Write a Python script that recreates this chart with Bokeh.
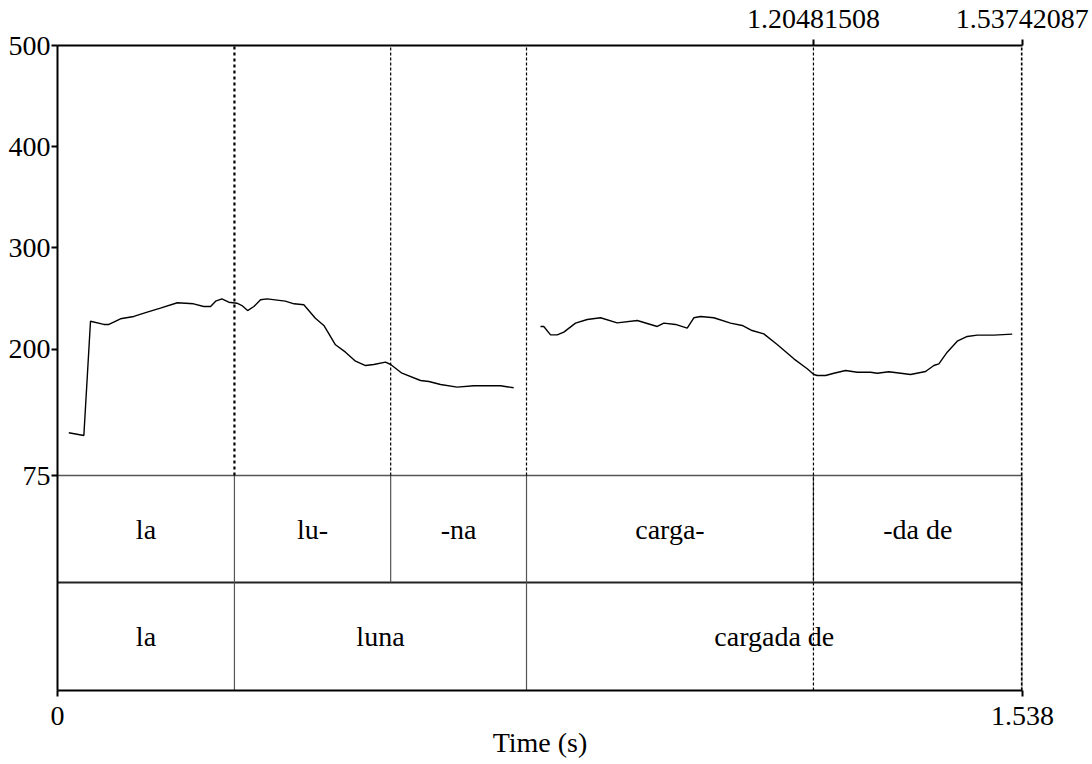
import numpy as np
from bokeh.plotting import figure
from bokeh.models import Range1d, LinearAxis, FixedTicker, ColumnDataSource
from bokeh.core.properties import value
from bokeh.embed import file_html
from bokeh.resources import INLINE

FONT = "Liberation Serif"

# Pitch contour, segment 1 (s, Hz)
pitch_t_1 = [0.018, 0.042, 0.0526, 0.0738, 0.082, 0.1004, 0.1216, 0.143, 0.164, 0.191,
             0.217, 0.233, 0.244, 0.252, 0.262, 0.273, 0.286, 0.294, 0.303, 0.313,
             0.3236, 0.334, 0.363, 0.377, 0.3926, 0.411, 0.4245, 0.4326, 0.443, 0.459,
             0.475, 0.491, 0.504, 0.5228, 0.531, 0.549, 0.5786, 0.592, 0.6105, 0.637,
             0.6635, 0.706, 0.727]
pitch_hz_1 = [117.2, 114.5, 227.5, 224.3, 224.3, 229.9, 232.2, 236.4, 240.4, 245.7,
              244.7, 242.0, 242.0, 247.3, 249.6, 246.3, 245.3, 243.0, 238.0, 242.0,
              248.7, 249.6, 247.3, 244.7, 243.7, 230.5, 223.3, 215.0, 204.2, 196.9,
              188.0, 183.7, 184.7, 187.0, 184.7, 176.1, 168.9, 167.9, 164.9, 162.3,
              163.7, 163.7, 161.7]
# Pitch contour, segment 2
pitch_t_2 = [0.7698, 0.775, 0.7858, 0.7964, 0.807, 0.8256, 0.8443, 0.8655, 0.892, 0.924,
             0.9558, 0.9664, 0.985, 1.0036, 1.0142, 1.0249, 1.046, 1.0727, 1.0913, 1.107,
             1.1257, 1.147, 1.1736, 1.1949, 1.2055, 1.2108, 1.2241, 1.2374, 1.256, 1.2747,
             1.2958, 1.3065, 1.325, 1.3596, 1.3835, 1.3967, 1.4047, 1.418, 1.434, 1.45,
             1.466, 1.4924, 1.5216]
pitch_hz_2 = [222.3, 222.3, 214.0, 214.0, 216.7, 225.6, 229.2, 230.9, 225.9, 228.2,
              222.3, 225.6, 224.3, 220.6, 230.9, 232.2, 230.9, 225.6, 223.3, 218.3,
              215.0, 204.5, 190.3, 180.5, 174.8, 173.8, 173.8, 176.1, 178.8, 177.1,
              177.1, 176.1, 177.5, 174.8, 177.8, 183.7, 185.4, 196.9, 207.7, 212.4,
              213.7, 213.7, 214.7]

# TextGrid tiers
tier1_bounds = [0.0, 0.282, 0.531, 0.7475, 1.20481508, 1.53742087]
tier1_labels = ["la", "lu-", "-na", "carga-", "-da de"]
tier2_bounds = [0.0, 0.282, 0.7475, 1.53742087]
tier2_labels = ["la", "luna", "cargada de"]

# dotted marks across the pitch area
pitch_marks = [0.282, 0.531, 0.7475]
full_marks = [1.20481508, 1.53742087]
top_tick_labels = ["1.20481508", "1.53742087"]

y_ticks = [75, 200, 300, 400, 500]
x_ticks = [0.0, 1.538]
x_tick_labels = ["0", "1.538"]

T_END = 1.538
F_MIN, F_MAX = 75, 500
PX_PER_HZ = 430.0 / 425.0
TIER_H = 107.0 / PX_PER_HZ
Y1_BOT = F_MIN - TIER_H
Y2_BOT = F_MIN - 2 * TIER_H - 1.0 / PX_PER_HZ

p = figure(width=1090, height=764, output_backend="svg", toolbar_location=None,
           x_range=Range1d(0, T_END), y_range=Range1d(Y2_BOT, F_MAX),
           x_axis_location=None, y_axis_location=None,
           min_border_left=57, min_border_right=68, min_border_top=45, min_border_bottom=74)
p.grid.visible = False
p.outline_line_color = None
p.background_fill_color = "white"

def style_axis(ax):
    ax.axis_line_width = 2
    ax.axis_line_color = "black"
    ax.major_tick_line_width = 2
    ax.major_tick_line_color = "black"
    ax.major_tick_in = 0
    ax.major_tick_out = 6
    ax.minor_tick_line_color = None
    ax.major_label_text_font = FONT
    ax.major_label_text_font_size = "28px"
    ax.major_label_text_color = "black"

left = LinearAxis(ticker=FixedTicker(ticks=y_ticks))
style_axis(left)
left.major_label_standoff = 1
p.add_layout(left, "left")

bottom = LinearAxis(ticker=FixedTicker(ticks=x_ticks),
                    major_label_overrides={x_ticks[i]: x_tick_labels[i] for i in range(len(x_ticks))})
style_axis(bottom)
bottom.major_label_standoff = 10
bottom.axis_label = "Time (s)"
bottom.axis_label_text_font = FONT
bottom.axis_label_text_font_size = "28px"
bottom.axis_label_text_font_style = "normal"
bottom.axis_label_text_color = "black"
bottom.axis_label_standoff = -1
p.add_layout(bottom, "below")

top = LinearAxis(ticker=FixedTicker(ticks=full_marks),
                 major_label_overrides={full_marks[i]: top_tick_labels[i] for i in range(len(full_marks))})
style_axis(top)
top.major_tick_out = 6
top.major_label_standoff = 12
p.add_layout(top, "above")

# tier horizontal separators
p.segment(x0=[0, 0], x1=[T_END, T_END], y0=[F_MIN, Y1_BOT], y1=[F_MIN, Y1_BOT],
          line_color=["#555555", "#222222"], line_width=[1.5, 2])

# tier boundaries (solid)
b1 = tier1_bounds[1:]
b2 = tier2_bounds[1:]
p.segment(x0=b1, x1=b1, y0=[F_MIN] * len(b1), y1=[Y1_BOT] * len(b1), line_color="#555555", line_width=1.2)
p.segment(x0=b2, x1=b2, y0=[Y1_BOT] * len(b2), y1=[Y2_BOT] * len(b2), line_color="#555555", line_width=1.2)

# dotted marks in pitch area
p.segment(x0=pitch_marks[:1], x1=pitch_marks[:1], y0=[F_MIN], y1=[F_MAX],
          line_color="black", line_width=2.2, line_dash="3 3")
p.segment(x0=pitch_marks[1:], x1=pitch_marks[1:], y0=[F_MIN] * 2, y1=[F_MAX] * 2,
          line_color="black", line_width=1.2, line_dash="3 2")
p.segment(x0=full_marks[:1], x1=full_marks[:1], y0=[Y2_BOT], y1=[F_MAX],
          line_color="black", line_width=1.2, line_dash="3 2")
p.segment(x0=full_marks[1:], x1=full_marks[1:], y0=[Y2_BOT], y1=[F_MAX],
          line_color="black", line_width=2.5, line_dash="3 2")

# pitch contour
p.line(pitch_t_1, pitch_hz_1, line_color="black", line_width=1.4)
p.line(pitch_t_2, pitch_hz_2, line_color="black", line_width=1.4)

# tier labels
def mids(b):
    return [(b[i] + b[i + 1]) / 2 for i in range(len(b) - 1)]

src1 = ColumnDataSource(dict(x=mids(tier1_bounds), y=[(F_MIN + Y1_BOT) / 2] * len(tier1_labels), t=tier1_labels))
src2 = ColumnDataSource(dict(x=mids(tier2_bounds), y=[(Y1_BOT + Y2_BOT) / 2] * len(tier2_labels), t=tier2_labels))
for s in (src1, src2):
    p.text(x="x", y="y", text="t", source=s, text_font=value(FONT), text_font_size="28px",
           text_align="center", text_baseline="middle", text_color="black")

open("out.html", "w").write(file_html(p, INLINE))
